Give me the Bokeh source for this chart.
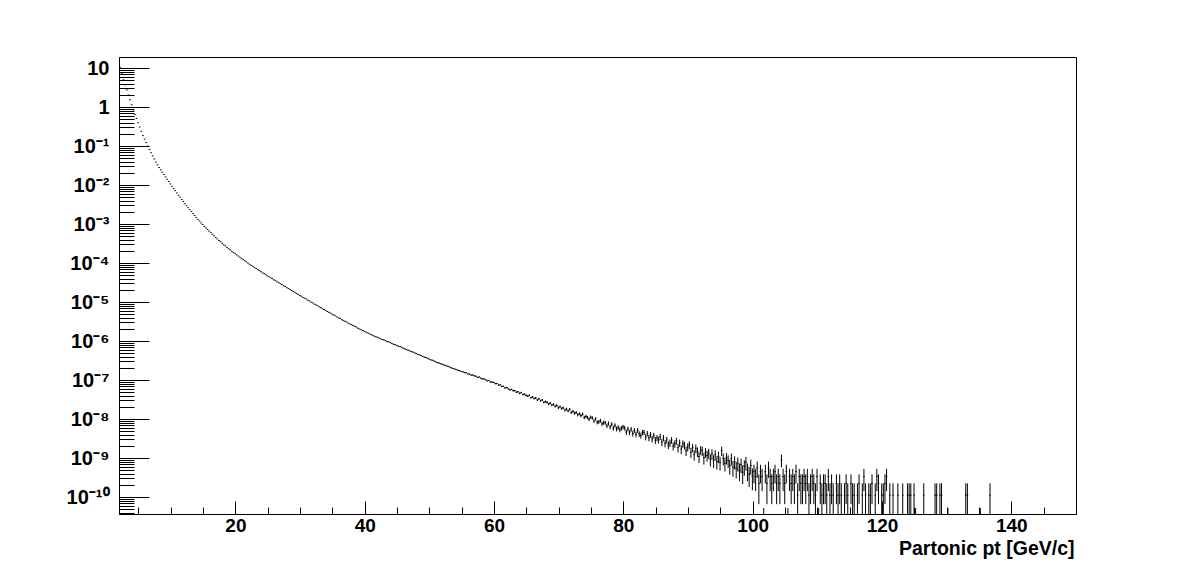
import numpy as np
from bokeh.plotting import figure
from bokeh.models import FixedTicker, ColumnDataSource, Range1d, Title
from bokeh.embed import file_html
from bokeh.resources import INLINE

# ---------------- data ----------------
# TH1 axis: 0.25 GeV bins from 2 to 150 GeV
pt_min = 2.0
pt_max = 150.0
bin_width = 0.25

# log10 of bin contents, 2 GeV .. 100 GeV, one row = 1 GeV = 4 bins
log_content = [
    1.02, 0.88, 0.71, 0.58,      # 2
    0.45, 0.32, 0.20, 0.07,      # 3
    -0.06, -0.18, -0.28, -0.39,  # 4
    -0.50, -0.61, -0.72, -0.81,  # 5
    -0.90, -0.99, -1.08, -1.16,  # 6
    -1.24, -1.32, -1.40, -1.47,  # 7
    -1.54, -1.60, -1.66, -1.72,  # 8
    -1.78, -1.84, -1.90, -1.96,  # 9
    -2.02, -2.08, -2.13, -2.19,  # 10
    -2.25, -2.30, -2.36, -2.41,  # 11
    -2.47, -2.52, -2.57, -2.62,  # 12
    -2.67, -2.72, -2.77, -2.82,  # 13
    -2.87, -2.91, -2.96, -3.00,  # 14
    -3.05, -3.09, -3.13, -3.17,  # 15
    -3.21, -3.25, -3.29, -3.33,  # 16
    -3.37, -3.41, -3.44, -3.48,  # 17
    -3.52, -3.55, -3.59, -3.62,  # 18
    -3.65, -3.69, -3.72, -3.75,  # 19
    -3.78, -3.81, -3.84, -3.87,  # 20
    -3.90, -3.93, -3.96, -3.99,  # 21
    -4.02, -4.05, -4.07, -4.10,  # 22
    -4.13, -4.16, -4.18, -4.21,  # 23
    -4.24, -4.26, -4.29, -4.32,  # 24
    -4.34, -4.37, -4.39, -4.42,  # 25
    -4.44, -4.47, -4.49, -4.52,  # 26
    -4.54, -4.57, -4.59, -4.62,  # 27
    -4.64, -4.67, -4.69, -4.72,  # 28
    -4.74, -4.77, -4.79, -4.82,  # 29
    -4.84, -4.87, -4.89, -4.91,  # 30
    -4.94, -4.96, -4.99, -5.01,  # 31
    -5.04, -5.06, -5.08, -5.11,  # 32
    -5.13, -5.16, -5.18, -5.20,  # 33
    -5.23, -5.25, -5.27, -5.30,  # 34
    -5.32, -5.34, -5.37, -5.39,  # 35
    -5.41, -5.44, -5.46, -5.48,  # 36
    -5.50, -5.53, -5.55, -5.57,  # 37
    -5.59, -5.61, -5.63, -5.66,  # 38
    -5.68, -5.70, -5.72, -5.74,  # 39
    -5.76, -5.78, -5.80, -5.82,  # 40
    -5.84, -5.86, -5.88, -5.89,  # 41
    -5.91, -5.93, -5.95, -5.96,  # 42
    -5.98, -6.00, -6.01, -6.03,  # 43
    -6.05, -6.07, -6.08, -6.10,  # 44
    -6.12, -6.13, -6.15, -6.17,  # 45
    -6.19, -6.21, -6.22, -6.24,  # 46
    -6.26, -6.27, -6.29, -6.31,  # 47
    -6.33, -6.34, -6.36, -6.38,  # 48
    -6.40, -6.41, -6.43, -6.45,  # 49
    -6.47, -6.48, -6.50, -6.52,  # 50
    -6.54, -6.55, -6.57, -6.58,  # 51
    -6.60, -6.61, -6.63, -6.64,  # 52
    -6.66, -6.68, -6.69, -6.71,  # 53
    -6.72, -6.74, -6.75, -6.77,  # 54
    -6.78, -6.80, -6.80, -6.83,  # 55
    -6.84, -6.86, -6.86, -6.88,  # 56
    -6.89, -6.92, -6.91, -6.94,  # 57
    -6.96, -6.96, -6.98, -7.01,  # 58
    -7.00, -7.04, -7.04, -7.05,  # 59
    -7.08, -7.08, -7.12, -7.11,  # 60
    -7.15, -7.15, -7.19, -7.18,  # 61
    -7.21, -7.24, -7.23, -7.26,  # 62
    -7.26, -7.30, -7.29, -7.33,  # 63
    -7.31, -7.36, -7.35, -7.38,  # 64
    -7.40, -7.38, -7.44, -7.42,  # 65
    -7.46, -7.45, -7.50, -7.47,  # 66
    -7.52, -7.50, -7.56, -7.54,  # 67
    -7.56, -7.60, -7.58, -7.63,  # 68
    -7.61, -7.66, -7.64, -7.70,  # 69
    -7.67, -7.72, -7.70, -7.76,  # 70
    -7.73, -7.78, -7.74, -7.82,  # 71
    -7.79, -7.84, -7.82, -7.88,  # 72
    -7.85, -7.90, -7.86, -7.95,  # 73
    -7.92, -7.95, -7.99, -7.94,  # 74
    -7.96, -8.04, -7.98, -8.07,  # 75
    -8.06, -8.03, -8.11, -8.08,  # 76
    -8.08, -8.16, -8.10, -8.19,  # 77
    -8.12, -8.22, -8.15, -8.24,  # 78
    -8.20, -8.26, -8.22, -8.19,  # 79
    -8.22, -8.32, -8.24, -8.33,  # 80
    -8.25, -8.36, -8.28, -8.38,  # 81
    -8.28, -8.37, -8.41, -8.33,  # 82
    -8.33, -8.45, -8.36, -8.47,  # 83
    -8.39, -8.50, -8.41, -8.53,  # 84
    -8.47, -8.52, -8.44, -8.58,  # 85
    -8.47, -8.61, -8.52, -8.65,  # 86
    -8.60, -8.53, -8.68, -8.62,  # 87
    -8.55, -8.72, -8.60, -8.76,  # 88
    -8.62, -8.66, -8.80, -8.70,  # 89
    -8.65, -8.84, -8.72, -8.90,  # 90
    -8.74, -8.82, -8.95, -8.78,  # 91
    -8.80, -8.98, -8.84, -8.92,  # 92
    -8.86, -9.02, -8.88, -9.05,  # 93
    -8.90, -9.08, -8.95, -9.10,  # 94
    -8.80, -9.00, -9.12, -8.98,  # 95
    -9.05, -9.18, -9.00, -9.22,  # 96
    -9.08, -9.25, -9.12, -9.30,  # 97
    -9.15, -9.35, -9.20, -9.10,  # 98
    -9.30, -9.40, -9.18, -9.45,  # 99
]

# weight of a single entry (lowest occupied level in the tail)
unit_weight = 1.15e-10
# bin contents 100 GeV .. 140 GeV in units of unit_weight, one row = 1 GeV
tail_entries = [
    4, 3, 5, 2,        # 100
    4, 3, 0.12, 4,     # 101
    2, 5, 3, 2,        # 102
    3, 4, 2, 3,        # 103
    2, 8, 3, 2,        # 104
    4, 0.12, 3, 2,     # 105
    3, 2, 4, 1,        # 106
    3, 2, 2, 3,        # 107
    2, 3, 1, 2,        # 108
    3, 2, 1, 3,        # 109
    0.12, 2, 1, 2,     # 110
    2, 1, 3, 1,        # 111
    2, 1, 0, 2,        # 112
    1, 2, 1, 0,        # 113
    1, 2, 1, 0,        # 114
    2, 1, 1, 0,        # 115
    1, 2, 0, 1,        # 116
    3, 1, 0, 1,        # 117
    1, 2, 0, 1,        # 118
    3, 2, 0, 1,        # 119
    1, 2, 3, 0,        # 120
    1, 0, 1, 0,        # 121
    0, 1, 0, 0,        # 122
    1, 0, 0, 1,        # 123
    1, 1, 0, 1,        # 124
    0.12, 0, 0, 0,     # 125
    0, 1, 0, 0,        # 126
    0, 0, 0, 0,        # 127
    1, 1, 0, 1,        # 128
    1, 0, 0, 0,        # 129
    0.12, 0, 0, 0,     # 130
    0, 0, 0, 0,        # 131
    0, 0, 0, 1,        # 132
    1, 0, 0, 0,        # 133
    0, 0, 0, 0,        # 134
    0.12, 0, 0, 0,     # 135
    0, 0, 1, 0,        # 136
    0, 0, 0, 0,        # 137
    0, 0, 0, 0,        # 138
    0, 0, 0, 0,        # 139
]

x_major = [20, 40, 60, 80, 100, 120, 140]
x_minor = [5, 10, 15, 25, 30, 35, 45, 50, 55, 65, 70, 75, 85, 90, 95,
           105, 110, 115, 125, 130, 135, 145]
y_decades = [1, 0, -1, -2, -3, -4, -5, -6, -7, -8, -9, -10]
y_tick_labels = ["10", "1", "10⁻¹", "10⁻²", "10⁻³", "10⁻⁴", "10⁻⁵",
                 "10⁻⁶", "10⁻⁷", "10⁻⁸", "10⁻⁹", "10⁻¹⁰"]
y_log_min = -10.436
y_log_max = 1.282
x_title = "Partonic pt [GeV/c]"

# ---------------- histogram ----------------
n_bins = int(round((pt_max - pt_min) / bin_width))
lo = pt_min + bin_width * np.arange(n_bins)
content = np.zeros(n_bins)
content[:len(log_content)] = 10.0 ** np.array(log_content)
content[len(log_content):len(log_content) + len(tail_entries)] = unit_weight * np.array(tail_entries, dtype=float)
error = np.sqrt(content * unit_weight)
m = content > 0
lo_m = lo[m]
c_m = content[m]
e_m = error[m]

src = ColumnDataSource(dict(
    x0=lo_m, x1=lo_m + bin_width, xc=lo_m + bin_width / 2,
    y=c_m, ylo=np.maximum(c_m - e_m, 1e-14), yhi=c_m + e_m))

# ---------------- figure ----------------
ML, MR, MT, MB = 119, 112, 57, 58
FW, FH = 957, 457
W = ML + FW + MR
H = MT + FH + MB

p = figure(width=W, height=H, y_axis_type="log",
           x_range=Range1d(pt_min, pt_max),
           y_range=Range1d(10 ** y_log_min, 10 ** y_log_max),
           output_backend="svg", toolbar_location=None,
           min_border_left=ML, min_border_right=MR,
           min_border_top=MT, min_border_bottom=MB)
p.background_fill_color = "white"
p.border_fill_color = "white"
p.outline_line_color = "black"
p.outline_line_width = 1
p.xgrid.visible = False
p.ygrid.visible = False

p.segment(x0="x0", x1="x1", y0="y", y1="y", source=src, line_color="black", line_width=1)
p.segment(x0="xc", x1="xc", y0="ylo", y1="yhi", source=src, line_color="black", line_width=1)

FONT = "Liberation Sans"

xa = p.xaxis[0]
xa.ticker = FixedTicker(ticks=x_major, minor_ticks=x_minor)
xa.axis_line_color = "black"
xa.major_tick_in = 13
xa.major_tick_out = 0
xa.minor_tick_in = 7
xa.minor_tick_out = 0
xa.major_tick_line_color = "black"
xa.minor_tick_line_color = "black"
xa.major_label_text_font = FONT
xa.major_label_text_font_style = "bold"
xa.major_label_text_font_size = "19px"
xa.major_label_text_color = "black"
xa.major_label_standoff = 4

ya = p.yaxis[0]
ya.ticker = FixedTicker(ticks=[10.0 ** k for k in y_decades],
                        minor_ticks=[mm * 10.0 ** k for k in range(-11, 2) for mm in range(2, 10)])
ya.axis_line_color = "black"
ya.major_tick_in = 30
ya.major_tick_out = 0
ya.minor_tick_in = 15
ya.minor_tick_out = 0
ya.major_tick_line_color = "black"
ya.minor_tick_line_color = "black"
ya.major_label_overrides = {10.0 ** k: t for k, t in zip(y_decades, y_tick_labels)}
ya.major_label_text_font = FONT
ya.major_label_text_font_style = "bold"
ya.major_label_text_font_size = "20px"
ya.major_label_text_color = "black"
ya.major_label_standoff = 10

# x-axis title, right-aligned at the end of the axis (ROOT style)
p.add_layout(Title(text=x_title, align="right", offset=2, standoff=0,
                   text_font=FONT, text_font_style="bold",
                   text_font_size="19.5px", text_color="black"), "below")

open("out.html", "w").write(file_html(p, INLINE))
